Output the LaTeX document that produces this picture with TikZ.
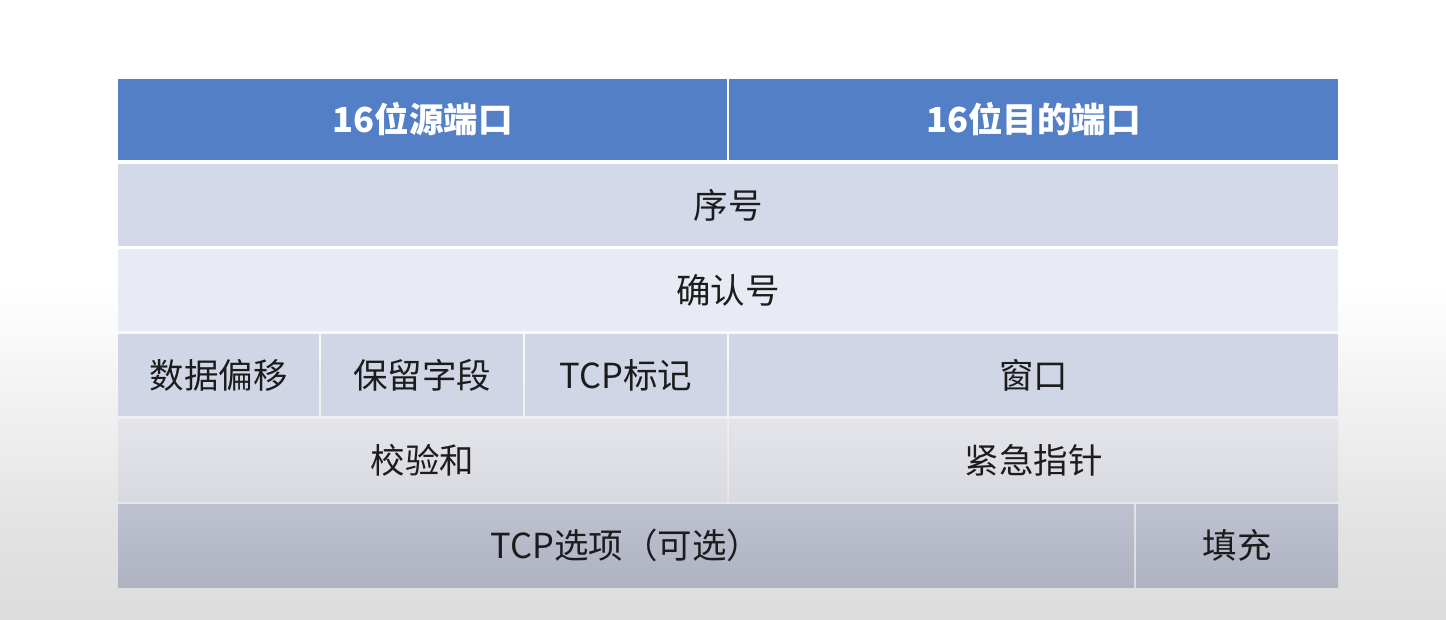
\documentclass[tikz,border=0pt]{standalone}
\usepackage{fontspec}
\setmainfont{Noto Sans CJK SC}
\definecolor{hdr}{HTML}{537FC7}
\definecolor{rowa}{HTML}{D4D9EA}
\definecolor{rowb}{HTML}{E9EBF4}
\definecolor{rowc}{HTML}{D1D6E7}
\definecolor{rowdt}{HTML}{E4E5EB}
\definecolor{rowdb}{HTML}{D9DAE0}
\definecolor{rowet}{HTML}{BEC2D0}
\definecolor{roweb}{HTML}{AEB2C1}
\definecolor{bgbot}{HTML}{C8C8C8}
\definecolor{bgmid}{HTML}{E2E2E2}
\definecolor{txt}{HTML}{1C1C1C}
\pgfdeclareverticalshading{bgshade}{100bp}{color(0bp)=(bgbot); color(32bp)=(bgmid); color(52bp)=(white); color(100bp)=(white)}
\tikzset{
  cell/.style={rectangle, inner sep=0pt, draw=none, text=txt, font=\fontsize{34.5}{40}\selectfont},
  hcell/.style={cell, fill=hdr, text=white, font=\fontsize{34.5}{40}\selectfont\bfseries},
}
\begin{document}
\begin{tikzpicture}[x=1pt,y=-1pt]
\useasboundingbox (0,0) rectangle (1446,620);
\shade[shading=bgshade] (0,0) rectangle (1446,620);
% header
\node[hcell, minimum width=609pt, minimum height=81pt] (src) at (422.5,119.5) {16位源端口};
\node[hcell, minimum width=609pt, minimum height=81pt] (dst) at (1033.5,119.5) {16位目的端口};
% row 1
\node[cell, fill=rowa, minimum width=1220pt, minimum height=82pt] (seq) at (728,205) {序号};
% row 2
\node[cell, fill=rowb, minimum width=1220pt, minimum height=82pt] (ack) at (728,290) {确认号};
% row 3
\node[cell, fill=rowc, minimum width=201pt, minimum height=82pt] (off) at (218.5,375) {数据偏移};
\node[cell, fill=rowc, minimum width=202pt, minimum height=82pt] (res) at (422,375) {保留字段};
\node[cell, fill=rowc, minimum width=202pt, minimum height=82pt] (flag) at (626,375) {TCP标记};
\node[cell, fill=rowc, minimum width=609pt, minimum height=82pt] (win) at (1033.5,375) {窗口};
% row 4
\node[cell, top color=rowdt, bottom color=rowdb, minimum width=609pt, minimum height=82pt] (chk) at (422.5,460) {校验和};
\node[cell, top color=rowdt, bottom color=rowdb, minimum width=609pt, minimum height=82pt] (urg) at (1033.5,460) {紧急指针};
% row 5
\node[cell, top color=rowet, bottom color=roweb, minimum width=1016pt, minimum height=83pt] (opt) at (626,545.5) {TCP选项（可选）};
\node[cell, top color=rowet, bottom color=roweb, minimum width=202pt, minimum height=83pt] (pad) at (1237,545.5) {填充};
\end{tikzpicture}
\end{document}
